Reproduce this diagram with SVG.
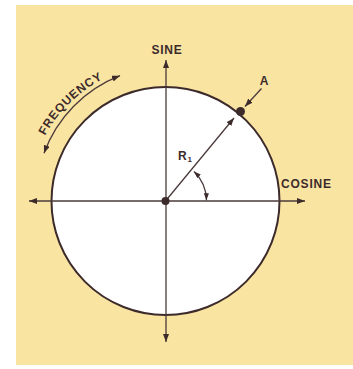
<svg xmlns="http://www.w3.org/2000/svg" width="353" height="369" viewBox="0 0 353 369">
<defs>
<style>
.ln{fill:none;stroke:#4a3a3a;stroke-width:1.3}
.lbl{font-family:"Liberation Sans",Arial,sans-serif;font-weight:bold;font-size:12px;fill:#3d2b2b;letter-spacing:0.8px}
</style>
<marker id="ah" viewBox="0 0 8 6" refX="8" refY="3" markerWidth="8" markerHeight="6" markerUnits="userSpaceOnUse" orient="auto-start-reverse">
<path d="M0,0 L8,3 L0,6 z" fill="#3d2b2b"/>
</marker>
<marker id="ahs" viewBox="0 0 7 5" refX="7" refY="2.5" markerWidth="7" markerHeight="5" markerUnits="userSpaceOnUse" orient="auto-start-reverse">
<path d="M0,0 L7,2.5 L0,5 z" fill="#3d2b2b"/>
</marker>
<path id="freqText" d="M30.9,175.6 A137,137 0 0 1 143.4,65.8"/>
</defs>
<rect x="0" y="0" width="353" height="369" fill="#ffffff"/>
<rect x="16" y="5" width="337" height="360" fill="#f9e4a2"/>
<g id="circle">
<circle cx="165.5" cy="201" r="114" fill="#ffffff" stroke="#3d2b2b" stroke-width="2"/>
</g>
<g id="connectors">
<line class="ln" x1="29" y1="201" x2="305" y2="201" marker-start="url(#ah)" marker-end="url(#ah)"/>
<line class="ln" x1="166" y1="342" x2="166" y2="60" marker-start="url(#ah)" marker-end="url(#ah)"/>
<line class="ln" x1="165.5" y1="201" x2="234" y2="118" marker-end="url(#ah)"/>
<line class="ln" x1="261.5" y1="88.5" x2="245" y2="106.5" marker-end="url(#ah)"/>
<path class="ln" d="M194,171.5 A41,41 0 0 1 206.5,200.3" marker-start="url(#ahs)" marker-end="url(#ahs)"/>
<path class="ln" d="M44,153.3 A132,132 0 0 1 120,75.7" marker-start="url(#ah)" marker-end="url(#ah)"/>
</g>
<g id="center">
<circle cx="165.5" cy="201" r="4" fill="#3d2b2b"/>
</g>
<g id="pointA">
<circle cx="240.5" cy="111.5" r="4.5" fill="#3d2b2b"/>
<text class="lbl" x="264.5" y="85" text-anchor="middle">A</text>
</g>
<g id="sine">
<text class="lbl" x="167" y="54" text-anchor="middle">SINE</text>
</g>
<g id="cosine">
<text class="lbl" x="281" y="188">COSINE</text>
</g>
<g id="r1">
<text class="lbl" x="178" y="160">R<tspan font-size="8" dy="2">1</tspan></text>
</g>
<g id="frequency">
<text class="lbl"><textPath href="#freqText" startOffset="50%" text-anchor="middle">FREQUENCY</textPath></text>
</g>
</svg>
